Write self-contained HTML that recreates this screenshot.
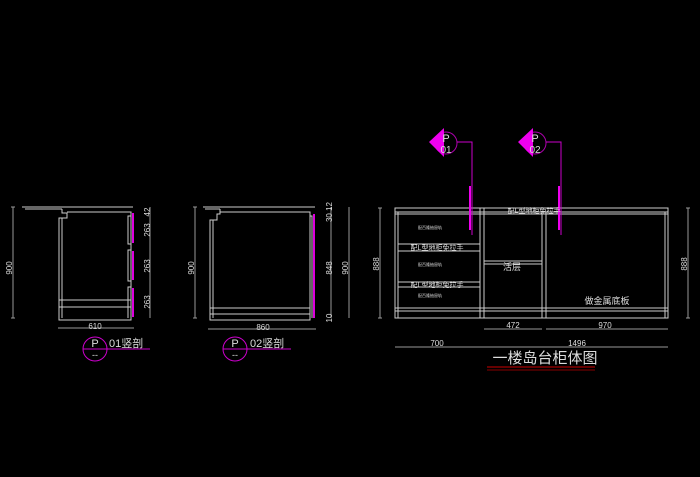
<!DOCTYPE html>
<html><head><meta charset="utf-8"><style>
html,body{margin:0;padding:0;background:#000;}
svg{display:block}
text{font-family:"Liberation Sans","Noto Sans CJK SC",sans-serif;fill:#ddd}
</style></head><body>
<svg width="700" height="477" viewBox="0 0 700 477" xmlns="http://www.w3.org/2000/svg">
<rect width="700" height="477" fill="#000"/>
<g stroke="#ccc" stroke-width="1" fill="none">
<!-- View 1 -->
<path d="M22 207 H133 M25 209 H62"/>
<path d="M62 209 V213 H67 V218 H59 V320 H131 V212 H67"/>
<path d="M62 218 V318 M59 300 H131 M59 307 H131"/>
<path d="M131 212 V216 H128 V244 H131 V250 H128 V281 H131 V287 H128 V318"/>
<path d="M13 207 V318 M11 207 H15 M11 318 H15" stroke="#999"/>
<path d="M150 207 V318" stroke="#999"/>
<path d="M58 328 H134" stroke="#999"/>
<!-- View 2 -->
<path d="M203 207 H315 M205 209 H220"/>
<path d="M220 209 V214 H217 V220 H210 V320 H310 V212 H220"/>
<path d="M213 220 V318 M210 308 H310 M210 314 H310"/>
<path d="M310 212 V216 H312 V318"/>
<path d="M195 207 V318 M193 207 H197 M193 318 H197" stroke="#999"/>
<path d="M331 207 V318 M349 207 V318" stroke="#999"/>
<path d="M208 329 H316" stroke="#999"/>
<!-- View 3 -->
<rect x="395" y="208" width="273" height="110"/>
<path d="M398 212 V318 M665 212 V318 M395 212 H668 M395 214 H668"/>
<path d="M480 208 V318 M484 208 V318 M542 212 V318 M546 212 V318"/>
<path d="M398 244 H480 M398 251 H480 M398 282 H480 M398 287 H480"/>
<path d="M484 261 H542 M484 264 H542"/>
<path d="M395 308 H668 M395 311 H668"/>
<path d="M380 208 V318 M378 208 H382 M378 318 H382 M688 208 V318 M686 208 H690 M686 318 H690" stroke="#999"/>
<path d="M484 329 H542 M546 329 H668 M395 347 H668" stroke="#999"/>
</g>
<!-- magenta doors -->
<g stroke="#d0d" stroke-width="2" fill="none">
<path d="M133 213 V243 M133 251 V280 M133 288 V317"/>
<path d="M314 214 V318"/>
</g>
<!-- dim texts -->
<g font-size="8" fill="#ccc">
<text transform="translate(12,268) rotate(-90)" text-anchor="middle">900</text>
<text transform="translate(150,212) rotate(-90)" text-anchor="middle">42</text>
<text transform="translate(150,230) rotate(-90)" text-anchor="middle">263</text>
<text transform="translate(150,266) rotate(-90)" text-anchor="middle">263</text>
<text transform="translate(150,302) rotate(-90)" text-anchor="middle">263</text>
<text x="95" y="329" text-anchor="middle">610</text>
<text transform="translate(194,268) rotate(-90)" text-anchor="middle">900</text>
<text transform="translate(332,212) rotate(-90)" text-anchor="middle">30 12</text>
<text transform="translate(332,268) rotate(-90)" text-anchor="middle">848</text>
<text transform="translate(332,318) rotate(-90)" text-anchor="middle">10</text>
<text transform="translate(348,268) rotate(-90)" text-anchor="middle">900</text>
<text x="263" y="330" text-anchor="middle">860</text>
<text transform="translate(379,264) rotate(-90)" text-anchor="middle">888</text>
<text transform="translate(687,264) rotate(-90)" text-anchor="middle">888</text>
<text x="513" y="328" text-anchor="middle">472</text>
<text x="605" y="328" text-anchor="middle">970</text>
<text x="437" y="346" text-anchor="middle">700</text>
<text x="577" y="346" text-anchor="middle">1496</text>
</g>
<!-- section labels -->
<g>
<circle cx="95" cy="349" r="12" stroke="#c0c" fill="none"/>
<line x1="83" y1="349" x2="150" y2="349" stroke="#c0c"/>
<text x="95" y="347" font-size="11" text-anchor="middle" fill="#fff">P</text>
<text x="95" y="358" font-size="9" text-anchor="middle" fill="#fff">--</text>
<text x="109" y="347" font-size="11" fill="#fff">01竖剖</text>
<circle cx="235" cy="349" r="12" stroke="#c0c" fill="none"/>
<line x1="223" y1="349" x2="291" y2="349" stroke="#c0c"/>
<text x="235" y="347" font-size="11" text-anchor="middle" fill="#fff">P</text>
<text x="235" y="358" font-size="9" text-anchor="middle" fill="#fff">--</text>
<text x="250" y="347" font-size="11" fill="#fff">02竖剖</text>
</g>
<!-- section markers -->
<g>
<circle cx="446" cy="143" r="11" stroke="#a0a" fill="none"/>
<polygon points="429,142 444,128 444,157" fill="#e0e"/>
<path d="M457 142 H472 V235" stroke="#c0c" fill="none"/>
<line x1="470" y1="186" x2="470" y2="230" stroke="#e0e" stroke-width="2"/>
<text x="446" y="142" font-size="11" text-anchor="middle" fill="#fff">P</text>
<text x="446" y="153" font-size="10" text-anchor="middle" fill="#fff">01</text>
<circle cx="535" cy="143" r="11" stroke="#a0a" fill="none"/>
<polygon points="518,142 533,128 533,157" fill="#e0e"/>
<path d="M546 142 H561 V235" stroke="#c0c" fill="none"/>
<line x1="559" y1="186" x2="559" y2="230" stroke="#e0e" stroke-width="2"/>
<text x="535" y="142" font-size="11" text-anchor="middle" fill="#fff">P</text>
<text x="535" y="153" font-size="10" text-anchor="middle" fill="#fff">02</text>
</g>
<!-- cabinet labels -->
<g fill="#ddd">
<text x="534" y="213" font-size="7" text-anchor="middle">配L型地柜免拉手</text>
<text x="430" y="229" font-size="4" text-anchor="middle">配百隆抽屉轨</text>
<text x="437" y="250" font-size="7" text-anchor="middle">配L型地柜免拉手</text>
<text x="430" y="266" font-size="4" text-anchor="middle">配百隆抽屉轨</text>
<text x="437" y="287" font-size="7" text-anchor="middle">配L型地柜免拉手</text>
<text x="430" y="297" font-size="4" text-anchor="middle">配百隆抽屉轨</text>
<text x="512" y="270" font-size="9" text-anchor="middle">活层</text>
<text x="607" y="304" font-size="9" text-anchor="middle">做金属底板</text>
<text x="545" y="363" font-size="15" text-anchor="middle" fill="#fff">一楼岛台柜体图</text>
</g>
<line x1="487" y1="367" x2="595" y2="367" stroke="#c00" stroke-width="1"/>
<line x1="487" y1="370" x2="595" y2="370" stroke="#800" stroke-width="1"/>
</svg>
</body></html>
